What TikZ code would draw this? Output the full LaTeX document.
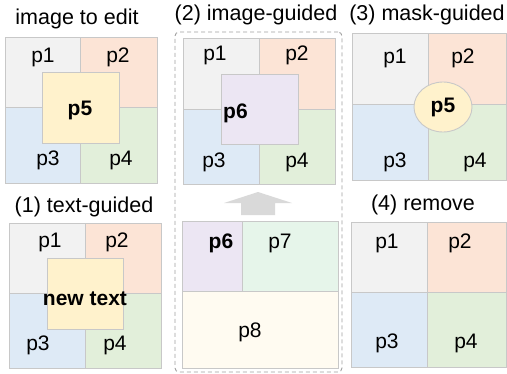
\documentclass[tikz,border=0pt]{standalone}
\usepackage{fontspec}
\setmainfont{Liberation Sans}
\usetikzlibrary{fit,shapes.geometric}
\definecolor{qOne}{HTML}{F2F2F2}
\definecolor{qTwo}{HTML}{FCE4D6}
\definecolor{qThree}{HTML}{DEEAF6}
\definecolor{qFour}{HTML}{E2EFDA}
\definecolor{qFive}{HTML}{FFF2CC}
\definecolor{qSix}{HTML}{ECE6F3}
\definecolor{qSeven}{HTML}{E6F5EA}
\definecolor{qEight}{HTML}{FFFBF1}
\definecolor{edgeGrey}{HTML}{C8C8C8}
\definecolor{arrowGrey}{HTML}{D9D9D9}
\definecolor{dashGrey}{HTML}{A0A0A0}
\tikzset{
  quad/.style={draw=edgeGrey, line width=0.9pt, inner sep=0pt},
  patch/.style={draw=edgeGrey, line width=0.9pt, inner sep=0pt},
  lbl/.style={font=\fontsize{21}{25}\selectfont, inner sep=0pt},
  blbl/.style={font=\fontsize{21}{25}\selectfont\bfseries, inner sep=0pt},
  ttl/.style={font=\fontsize{21.5}{26}\selectfont, inner sep=0pt},
  group/.style={draw=dashGrey, line width=0.9pt, dash pattern=on 4pt off 3pt,
              rounded corners=4pt, inner sep=0pt},
}

\begin{document}
\begin{tikzpicture}[x=1pt,y=-1pt]
  \useasboundingbox (0,0) rectangle (507,373);
  % the four-part images
  \foreach \n/\L/\T/\R/\B/\xm/\ym in {a/5/37/157/183/80/107,b/183/38/335/184/259/109,
      c/352/33/506/180/428/104,d/9/223/161/368/85/293,f/351/222/506/367/427/292}{
    \node[quad,fill=qOne,fit={(\L,\T)(\xm,\ym)}] (\n1) {};
    \node[quad,fill=qTwo,fit={(\xm,\T)(\R,\ym)}] (\n2) {};
    \node[quad,fill=qThree,fit={(\L,\ym)(\xm,\B)}] (\n3) {};
    \node[quad,fill=qFour,fit={(\xm,\ym)(\R,\B)}] (\n4) {};
  }
  % image to edit
  \node[ttl] (ttlA) at (77,19) {image to edit};
  \node[lbl] (a1t) at (43,57) {p1};
  \node[lbl] (a2t) at (118,57) {p2};
  \node[lbl] (a3t) at (48,160) {p3};
  \node[lbl] (a4t) at (121,160) {p4};
  \node[patch,fill=qFive,fit={(42,72)(119,143)}] (a5) {};
  \node[blbl] (a5t) at (80,110) {p5};
  % image-guided
  \node[group,fit={(175,32)(342,372)}] (grp) {};
  \node[ttl] (ttlB) at (256,15) {(2) image-guided};
  \node[lbl] (b1t) at (215,55) {p1};
  \node[lbl] (b2t) at (297,55) {p2};
  \node[lbl] (b3t) at (214,162) {p3};
  \node[lbl] (b4t) at (297,162) {p4};
  \node[patch,fill=qSix,fit={(221,74)(298,144)}] (b6) {};
  \node[blbl,anchor=west] (b6t) at (223,113) {p6};
  \node[quad,fill=qSix,fit={(182,221)(242,291)}] (e6) {};
  \node[quad,fill=qSeven,fit={(242,221)(338,291)}] (e7) {};
  \node[quad,fill=qEight,fit={(182,291)(338,368)}] (e8) {};
  \node[blbl] (e6t) at (221,243) {p6};
  \node[lbl] (e7t) at (280,243) {p7};
  \node[lbl] (e8t) at (250,332) {p8};
  \coordinate (tip) at (258,192);
  \fill[arrowGrey] (tip) -- ++(34,11) -- ++(-17,0) -- ++(0,12) -- ++(-34,0)
        -- ++(0,-12) -- ++(-17,0) -- cycle;
  % mask-guided
  \node[ttl] (ttlC) at (427,15) {(3) mask-guided};
  \node[lbl] (c1t) at (395,58) {p1};
  \node[lbl] (c2t) at (463,58) {p2};
  \node[lbl] (c3t) at (395,162) {p3};
  \node[lbl] (c4t) at (475,162) {p4};
  \node[patch,ellipse,fill=qFive,minimum width=58pt,minimum height=50pt,
        font=\fontsize{21}{25}\selectfont\bfseries] (c5) at (443,107) {p5};
  % text-guided
  \node[ttl] (ttlD) at (84,207) {(1) text-guided};
  \node[lbl] (d1t) at (50,242) {p1};
  \node[lbl] (d2t) at (117,242) {p2};
  \node[lbl] (d3t) at (38,345) {p3};
  \node[lbl] (d4t) at (115,345) {p4};
  \node[patch,fill=qFive,fit={(47,258)(123,329)}] (d5) {};
  \node[blbl] (d5t) at (85,299) {new text};
  % remove
  \node[ttl] (ttlF) at (423,205) {(4) remove};
  \node[lbl] (f1t) at (387,243) {p1};
  \node[lbl] (f2t) at (460,243) {p2};
  \node[lbl] (f3t) at (387,343) {p3};
  \node[lbl] (f4t) at (466,343) {p4};
\end{tikzpicture}
\end{document}
